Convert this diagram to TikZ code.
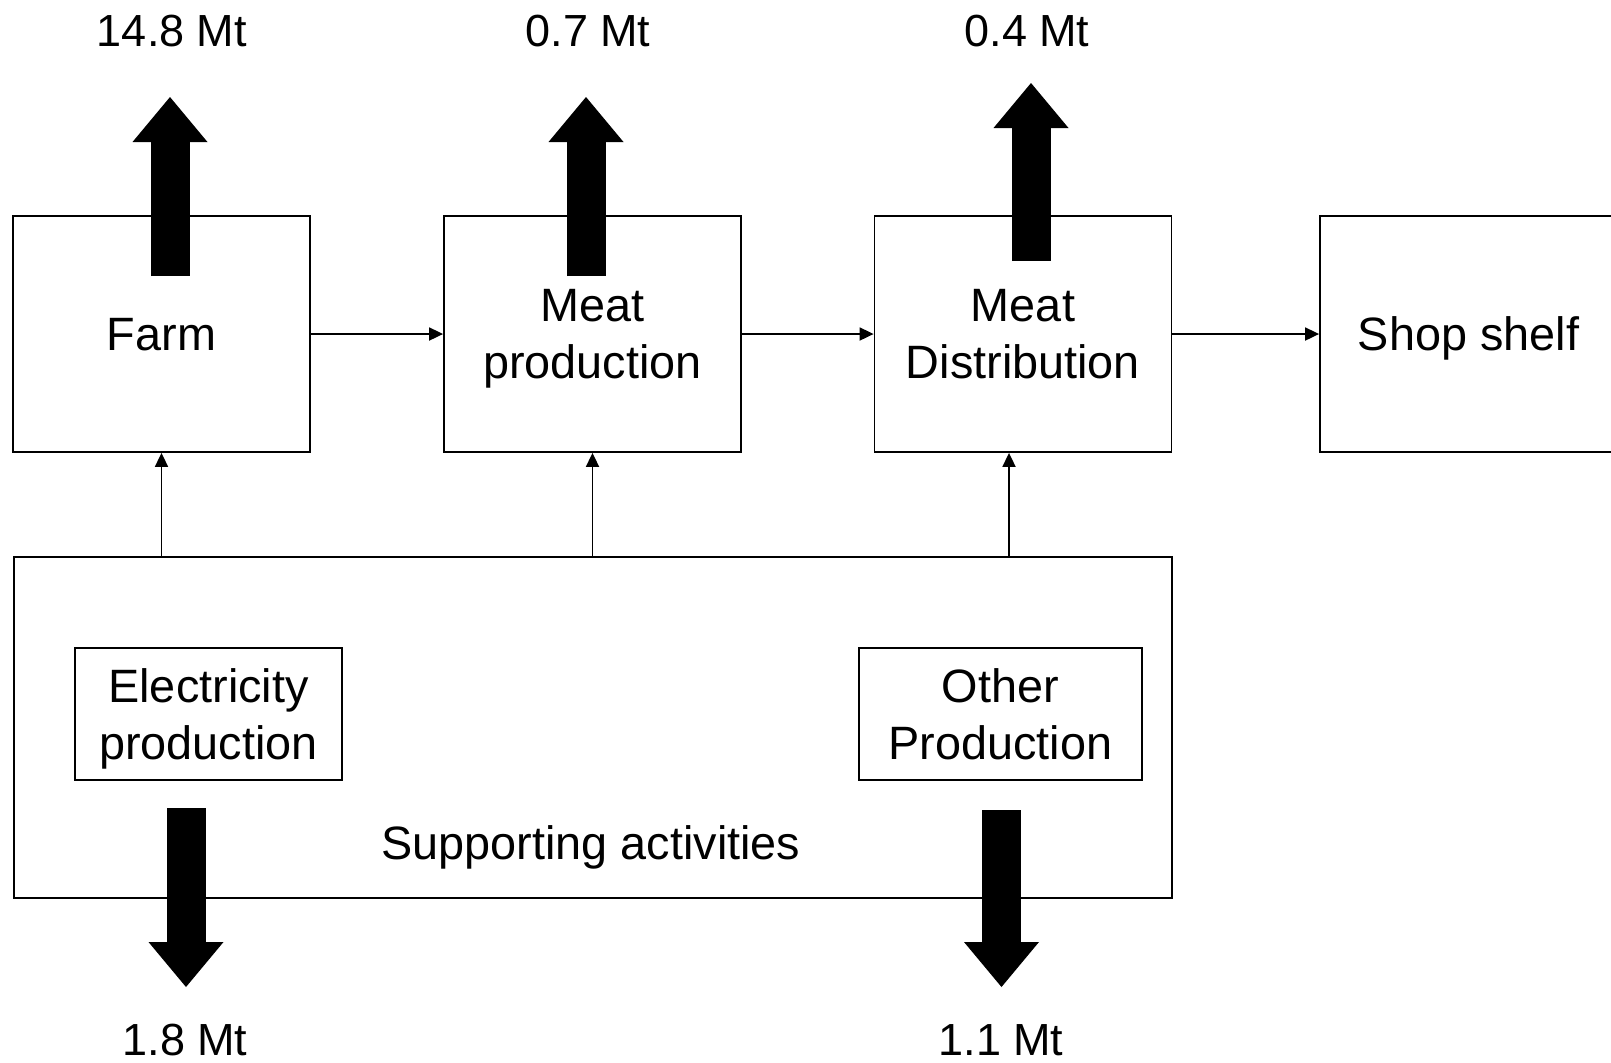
\documentclass[tikz,border=0pt]{standalone}
\usepackage{fontspec}
\setmainfont{Liberation Sans}
\usetikzlibrary{arrows.meta}

\tikzset{
  stagebox/.style={draw, line width=0.9pt, fill=white, inner sep=0pt, align=center,
    text depth=0pt, minimum width=148.5pt, minimum height=118pt, font=\boxfont},
  subbox/.style={draw, line width=0.9pt, inner sep=0pt, align=center, text depth=0pt,
    minimum height=66pt, font=\boxfont},
  conn/.style={line width=0.9pt, -{Triangle[length=7pt,width=6.5pt]}},
  bigarrow/.style={line width=19.5pt, -{Triangle[length=22.5pt,width=37.5pt,line width=0pt]}}
}
\newcommand{\boxfont}{\fontsize{23.4}{28.5}\selectfont}

\begin{document}
\begin{tikzpicture}[x=0.5pt,y=0.5pt,yscale=-1,xscale=1,font=\fontsize{22.5}{28.5}\selectfont]
\useasboundingbox (0,0) rectangle (1611,1062);

%Stages
\node [stagebox] (farm) at (161.5,334) {Farm};
\node [stagebox] (mprod) at (592.5,334) {Meat\\production};
\node [stagebox] (mdist) at (1023,334) {Meat\\Distribution};
\node [stagebox] (shelf) at (1468.5,334) {Shop shelf};

%Supporting activities
\node [draw, line width=0.9pt, minimum width=579pt, minimum height=170.5pt] (sup) at (593,727.5) {};
\node [subbox, minimum width=133.5pt] (elec) at (208.5,714) {Electricity\\production};
\node [subbox, minimum width=141.5pt] (other) at (1000.5,714) {Other\\Production};
% Text Node
\node [inner sep=0pt, font=\boxfont] (suplbl) at (591,847) {Supporting activities};

%Straight Lines
\draw [conn] (farm) -- (mprod);
\draw [conn] (mprod) -- (mdist);
\draw [conn] (mdist) -- (shelf);
\draw [conn] (sup.north -| farm.south) -- (farm.south);
\draw [conn] (sup.north -| mprod.south) -- (mprod.south);
\draw [conn] ([xshift=-7pt]sup.north -| mdist.south) -- ([xshift=-7pt]mdist.south);

%Emission arrows
\coordinate (fb) at (170,276);
\coordinate (ft) at (170,97);
\coordinate (pb) at (586,276);
\coordinate (pt) at (586,97);
\coordinate (db) at (1031,261);
\coordinate (dt) at (1031,83);
\coordinate (eb) at (186,808);
\coordinate (et) at (186,987);
\coordinate (ob) at (1001.5,810);
\coordinate (ot) at (1001.5,987);
\draw [bigarrow] (fb) -- (ft);
\draw [bigarrow] (pb) -- (pt);
\draw [bigarrow] (db) -- (dt);
\draw [bigarrow] (eb) -- (et);
\draw [bigarrow] (ob) -- (ot);

% Text Node
\node (fout) at (172,31) {14.8 Mt};
% Text Node
\node (pout) at (588,31) {0.7 Mt};
% Text Node
\node (dout) at (1027,31) {0.4 Mt};
% Text Node
\node (eout) at (185,1040) {1.8 Mt};
% Text Node
\node (oout) at (1001,1040) {1.1 Mt};

\end{tikzpicture}
\end{document}
